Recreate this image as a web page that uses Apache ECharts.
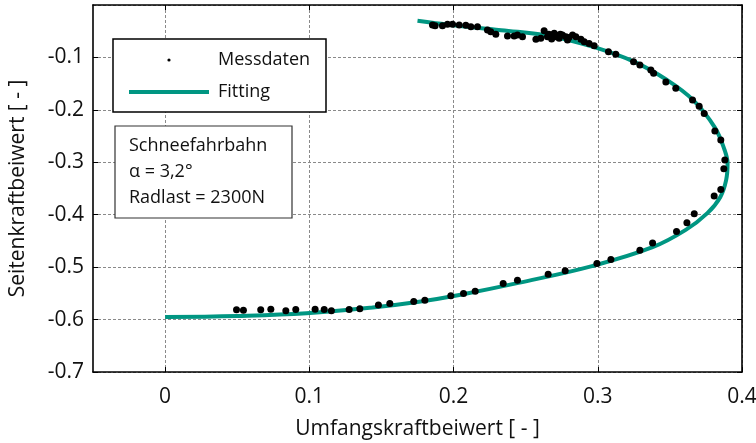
<!DOCTYPE html>
<html>
<head>
<meta charset="utf-8">
<script src="https://cdn.jsdelivr.net/npm/echarts@6/dist/echarts.min.js"></script>
<style>html,body{margin:0;padding:0;background:#fff;}#c{width:756px;height:443px;}</style>
</head>
<body>
<div id="c"></div>
<script>
// Measured data (Umfangskraftbeiwert, Seitenkraftbeiwert)
var messX = [0.1854,0.1872,0.1923,0.1958,0.1993,0.2039,0.2085,0.2120,0.2166,0.2235,0.2258,0.2293,0.2374,0.2420,0.2443,0.2478,0.2571,0.2605,0.2628,0.2651,0.2660,0.2675,0.2680,0.2698,0.2709,0.2720,0.2732,0.2740,0.2755,0.2779,0.2790,0.2800,0.2825,0.2848,0.2883,0.2906,0.2940,0.2975,0.3074,0.3125,0.3248,0.3292,0.3368,0.3387,0.3472,0.3541,0.3657,0.3703,0.3738,0.3812,0.3853,0.3881,0.3874,0.3853,0.3807,0.3669,0.3618,0.3546,0.3380,0.3292,0.3091,0.2994,0.2774,0.2656,0.2443,0.2344,0.2150,0.2069,0.1981,0.1801,0.1724,0.1558,0.1479,0.1350,0.1276,0.1153,0.1103,0.1040,0.0906,0.0837,0.0733,0.0663,0.0543,0.0495];
var messY = [-0.0382,-0.0394,-0.0394,-0.0369,-0.0369,-0.0382,-0.0388,-0.0414,-0.0414,-0.0477,-0.0509,-0.0560,-0.0592,-0.0592,-0.0573,-0.0604,-0.0655,-0.0636,-0.0490,-0.0604,-0.0560,-0.0573,-0.0650,-0.0541,-0.0604,-0.0580,-0.0636,-0.0560,-0.0573,-0.0604,-0.0668,-0.0620,-0.0573,-0.0604,-0.0655,-0.0700,-0.0732,-0.0776,-0.0891,-0.0941,-0.1081,-0.1145,-0.1240,-0.1304,-0.1469,-0.1590,-0.1810,-0.1930,-0.2070,-0.2405,-0.2576,-0.2958,-0.3123,-0.3518,-0.3645,-0.3982,-0.4154,-0.4320,-0.4540,-0.4676,-0.4854,-0.4930,-0.5070,-0.5134,-0.5248,-0.5312,-0.5458,-0.5503,-0.5547,-0.5630,-0.5655,-0.5693,-0.5720,-0.5795,-0.5810,-0.5830,-0.5810,-0.5802,-0.5810,-0.5830,-0.5802,-0.5815,-0.5820,-0.5815];
// Fitted curve
var fitX = [0.000,0.050,0.098,0.144,0.176,0.204,0.245,0.296,0.338,0.361,0.376,0.385,0.389,0.390,0.388,0.381,0.366,0.348,0.325,0.297,0.267,0.233,0.198,0.175];
var fitY = [-0.595,-0.593,-0.588,-0.577,-0.566,-0.553,-0.530,-0.498,-0.462,-0.429,-0.397,-0.366,-0.334,-0.302,-0.277,-0.233,-0.181,-0.143,-0.108,-0.080,-0.059,-0.048,-0.038,-0.030];
var xTicks = [0, 0.1, 0.2, 0.3, 0.4];
var yTicks = [-0.7, -0.6, -0.5, -0.4, -0.3, -0.2, -0.1, 0];
var seriesNames = ['Messdaten', 'Fitting'];
var infoLines = ['Schneefahrbahn', 'α = 3,2°', 'Radlast = 2300N'];
var xName = 'Umfangskraftbeiwert [ - ]';
var yName = 'Seitenkraftbeiwert [ - ]';

var FONT = '"Open Sans", sans-serif';
var TEAL = '#009682';
var grid = {left: 93, right: 14, top: 5, bottom: 71, containLabel: false, outerBoundsMode: 'none'};
var dashed = {show: true, lineStyle: {color: '#8a8a8a', width: 1, type: [3, 2]}};
var axLine = {show: true, onZero: false, lineStyle: {color: '#000', width: 1.6}};

var chart = echarts.init(document.getElementById('c'), null, {renderer: 'canvas'});
var messData = messX.map(function (x, i) { return [x, messY[i]]; });
var fitData = fitX.map(function (x, i) { return [x, fitY[i]]; });

chart.setOption({
  animation: false,
  backgroundColor: '#fff',
  grid: grid,
  xAxis: [{
    type: 'value', min: -0.05, max: 0.4, position: 'bottom',
    axisLine: axLine,
    axisTick: {show: true, inside: true, length: 5, customValues: xTicks, lineStyle: {color: '#000'}},
    axisLabel: {customValues: xTicks, color: '#111', fontFamily: FONT, fontSize: 21, margin: 15,
      formatter: function (v) { return String(Math.round(v * 10) / 10); }},
    splitLine: dashed,
    name: xName, nameLocation: 'middle', nameGap: 47,
    nameTextStyle: {color: '#111', fontFamily: FONT, fontSize: 21}
  }, {
    type: 'value', min: -0.05, max: 0.4, position: 'top',
    axisLine: axLine,
    axisTick: {show: true, inside: true, length: 5, customValues: xTicks, lineStyle: {color: '#000'}},
    axisLabel: {show: false}, splitLine: {show: false}
  }],
  yAxis: [{
    type: 'value', min: -0.7, max: 0, interval: 0.1, position: 'left',
    axisLine: axLine,
    axisTick: {show: true, inside: true, length: 5, lineStyle: {color: '#000'}},
    axisLabel: {color: '#111', fontFamily: FONT, fontSize: 21, margin: 9, showMaxLabel: false,
      formatter: function (v) { return String(Math.round(v * 10) / 10); }},
    splitLine: dashed,
    name: yName, nameLocation: 'middle', nameGap: 64,
    nameTextStyle: {color: '#111', fontFamily: FONT, fontSize: 21}
  }, {
    type: 'value', min: -0.7, max: 0, interval: 0.1, position: 'right',
    axisLine: axLine,
    axisTick: {show: true, inside: true, length: 5, lineStyle: {color: '#000'}},
    axisLabel: {show: false}, splitLine: {show: false}
  }],
  series: [{
    name: seriesNames[1], type: 'line', data: fitData, xAxisIndex: 0, yAxisIndex: 0,
    smooth: 0.4, showSymbol: false, lineStyle: {color: TEAL, width: 4}, z: 2
  }, {
    name: seriesNames[0], type: 'scatter', data: messData, xAxisIndex: 0, yAxisIndex: 0,
    symbol: 'circle', symbolSize: 7, itemStyle: {color: '#000', opacity: 1}, z: 3
  }],
  graphic: [
    {type: 'rect', shape: {x: 113, y: 39, width: 213, height: 73}, style: {fill: '#fff', stroke: '#000', lineWidth: 1.5}, z: 10},
    {type: 'circle', shape: {cx: 169, cy: 60, r: 1.6}, style: {fill: '#000'}, z: 11},
    {type: 'text', x: 218, y: 60, style: {text: seriesNames[0], fill: '#111', font: '18px ' + FONT, verticalAlign: 'middle'}, z: 11},
    {type: 'line', shape: {x1: 129, y1: 92, x2: 209, y2: 92}, style: {stroke: TEAL, lineWidth: 4}, z: 11},
    {type: 'text', x: 218, y: 92, style: {text: seriesNames[1], fill: '#111', font: '18px ' + FONT, verticalAlign: 'middle'}, z: 11},
    {type: 'rect', shape: {x: 115, y: 126, width: 177, height: 92}, style: {fill: '#fff', stroke: '#333', lineWidth: 1.2}, z: 10},
    {type: 'text', x: 129, y: 146, style: {text: infoLines[0], fill: '#111', font: '18px ' + FONT, verticalAlign: 'middle'}, z: 11},
    {type: 'text', x: 129, y: 172, style: {text: infoLines[1], fill: '#111', font: '18px ' + FONT, verticalAlign: 'middle'}, z: 11},
    {type: 'text', x: 129, y: 198, style: {text: infoLines[2], fill: '#111', font: '18px ' + FONT, verticalAlign: 'middle'}, z: 11}
  ]
});
</script>
</body>
</html>
